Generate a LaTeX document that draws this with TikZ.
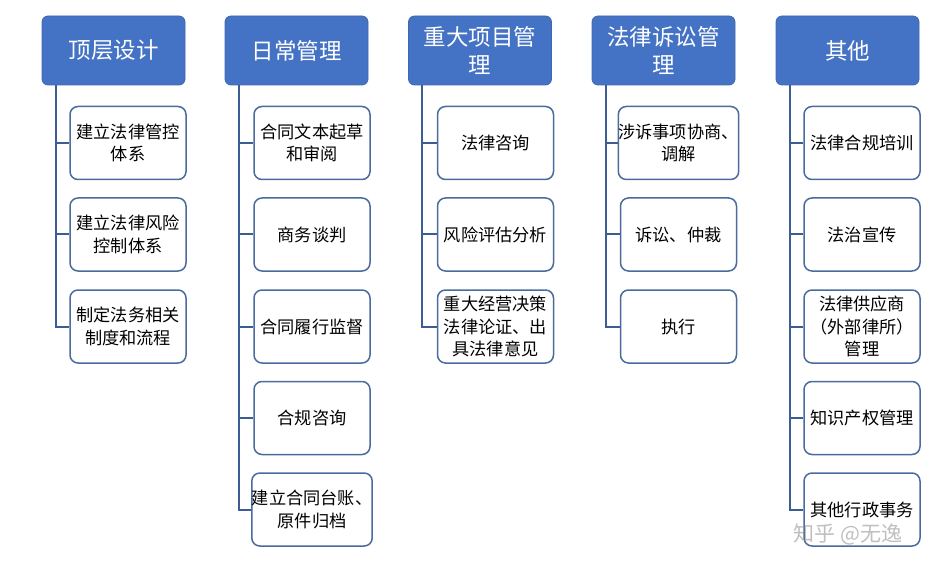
\documentclass[tikz,border=0pt]{standalone}
\usepackage{fontspec}
\newfontfamily\cjk{Noto Sans CJK SC}
\usetikzlibrary{calc}
\definecolor{hdr}{HTML}{4472C4}
\definecolor{hdrb}{HTML}{3F67B0}
\definecolor{boxb}{HTML}{4A6B9D}
\definecolor{conn}{HTML}{3C5D91}
\begin{document}
\begin{tikzpicture}[x=1pt,y=-1pt,
 hbox/.style={draw=hdrb, fill=hdr, rounded corners=6pt, minimum width=143pt, minimum height=69pt, text=white, font=\cjk\fontsize{22.5}{28}\selectfont, align=center, inner sep=0pt, line width=0.8pt},
 cbox/.style={draw=boxb, fill=white, rounded corners=8pt, minimum width=116pt, minimum height=73pt, font=\cjk\fontsize{17.2}{22.5}\selectfont, align=center, inner sep=0pt, line width=1.5pt},
 link/.style={draw=conn, line width=2pt},
 wm/.style={text=gray, opacity=0.5, font=\cjk\fontsize{21}{25}\selectfont}]
\useasboundingbox (0,0) rectangle (947,561);
% headers
\node[hbox] (h1) at (113.5,50.5) {顶层设计};
\node[hbox] (h2) at (296.5,50.5) {日常管理};
\node[hbox] (h3) at (480,50.5) {重大项目管\\理};
\node[hbox] (h4) at (663.5,50.5) {法律诉讼管\\理};
\node[hbox] (h5) at (847.5,50.5) {其他};
% column 1
\node[cbox] (c11) at (128,143) {建立法律管控\\体系};
\node[cbox] (c12) at (128,234.5) {建立法律风险\\控制体系};
\node[cbox] (c13) at (128,326.5) {制定法务相关\\制度和流程};
% column 2
\node[cbox] (c21) at (312,143) {合同文本起草\\和审阅};
\node[cbox] (c22) at (312,234.5) {商务谈判};
\node[cbox] (c23) at (312,326.5) {合同履行监督};
\node[cbox] (c24) at (312,418) {合规咨询};
\node[cbox] (c25) at (312,509.5) {建立合同台账、\\原件归档};
% column 3
\node[cbox] (c31) at (495.5,143) {法律咨询};
\node[cbox] (c32) at (495.5,234.5) {风险评估分析};
\node[cbox] (c33) at (495.5,326.5) {重大经营决策\\法律论证、出\\具法律意见};
% column 4
\node[cbox] (c41) at (678.5,143) {涉诉事项协商、\\调解};
\node[cbox] (c42) at (678.5,234.5) {诉讼、仲裁};
\node[cbox] (c43) at (678.5,326.5) {执行};
% column 5
\node[cbox] (c51) at (862,143) {法律合规培训};
\node[cbox] (c52) at (862,234.5) {法治宣传};
\node[cbox] (c53) at (862,326.5) {法律供应商\\（外部律所）\\管理};
\node[cbox] (c54) at (862,418) {知识产权管理};
\node[cbox] (c55) at (862,509.5) {其他行政事务};
% connectors
\foreach \h/\list in {h1/{c11,c12,c13},h2/{c21,c22,c23,c24,c25},h3/{c31,c32,c33},h4/{c41,c42,c43},h5/{c51,c52,c53,c54,c55}}{
  \foreach \c in \list {
    \draw[link] ($(\h.south west)+(14,0)$) |- (\c.west);
  }
}
% watermark
\node[wm] (wmk) at (848,534) {知乎 @无逸};
\end{tikzpicture}
\end{document}
